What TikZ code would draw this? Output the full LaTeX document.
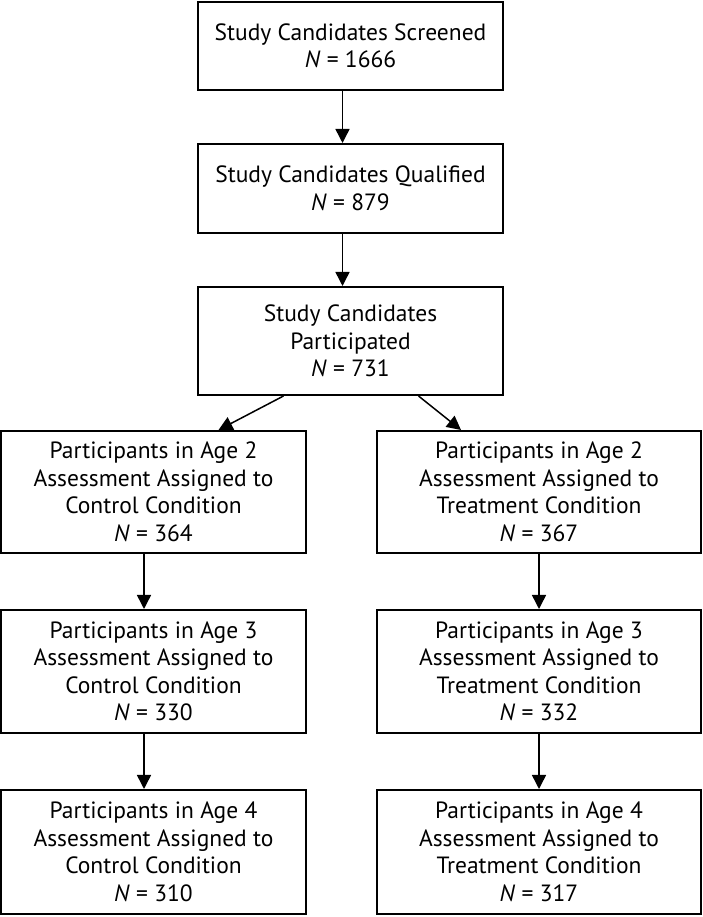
\documentclass[tikz,border=0pt]{standalone}
\usepackage{fontspec}
\setmainfont{PT Sans}
\usetikzlibrary{arrows.meta}
\begin{document}
\begin{tikzpicture}[x=1pt,y=1pt,
        box/.style = {draw, line width=2pt, align=center, inner sep=0pt,
            font=\fontsize{23.5}{27.5}\selectfont},
        arr/.style = {line width=1.5pt, -{Triangle[length=14pt,width=14pt]}}]
            \useasboundingbox (0,0) rectangle (702,917);
            % top column
            \node[box, minimum width=305, minimum height=88] (scr) at (350.5,871) {Study Candidates Screened\\\textit{N} = 1666};
            \node[box, minimum width=305, minimum height=89] (qua) at (350.5,728.5) {Study Candidates Qualified\\\textit{N} = 879};
            \node[box, minimum width=305, minimum height=108] (par) at (350.5,576) {Study Candidates\\Participated\\\textit{N} = 731};
            % control condition
            \node[box, minimum width=305, minimum height=122] (c2) at (153.5,425) {Participants in Age 2\\Assessment Assigned to\\Control Condition\\\textit{N} = 364};
            \node[box, minimum width=305, minimum height=123] (c3) at (153.5,245.5) {Participants in Age 3\\Assessment Assigned to\\Control Condition\\\textit{N} = 330};
            \node[box, minimum width=305, minimum height=124] (c4) at (153.5,65) {Participants in Age 4\\Assessment Assigned to\\Control Condition\\\textit{N} = 310};
            % treatment condition
            \node[box, minimum width=324, minimum height=122] (t2) at (539,425) {Participants in Age 2\\Assessment Assigned to\\Treatment Condition\\\textit{N} = 367};
            \node[box, minimum width=324, minimum height=123] (t3) at (539,245.5) {Participants in Age 3\\Assessment Assigned to\\Treatment Condition\\\textit{N} = 332};
            \node[box, minimum width=324, minimum height=124] (t4) at (539,65) {Participants in Age 4\\Assessment Assigned to\\Treatment Condition\\\textit{N} = 317};
            \draw[arr] ([xshift=-8pt]scr.south) -- ([xshift=-8pt]qua.north);
            \draw[arr] ([xshift=-8pt]qua.south) -- ([xshift=-8pt]par.north);
            \draw[arr] ([xshift=-67pt]par.south) -- ([xshift=65pt]c2.north);
            \draw[arr] ([xshift=68pt]par.south) -- ([xshift=-78pt]t2.north);
            \draw[arr] ([xshift=-9.5pt]c2.south) -- ([xshift=-9.5pt]c3.north);
            \draw[arr] ([xshift=-9.5pt]c3.south) -- ([xshift=-9.5pt]c4.north);
            \draw[arr] (t2.south) -- (t3.north);
            \draw[arr] (t3.south) -- (t4.north);
        \end{tikzpicture}
\end{document}
